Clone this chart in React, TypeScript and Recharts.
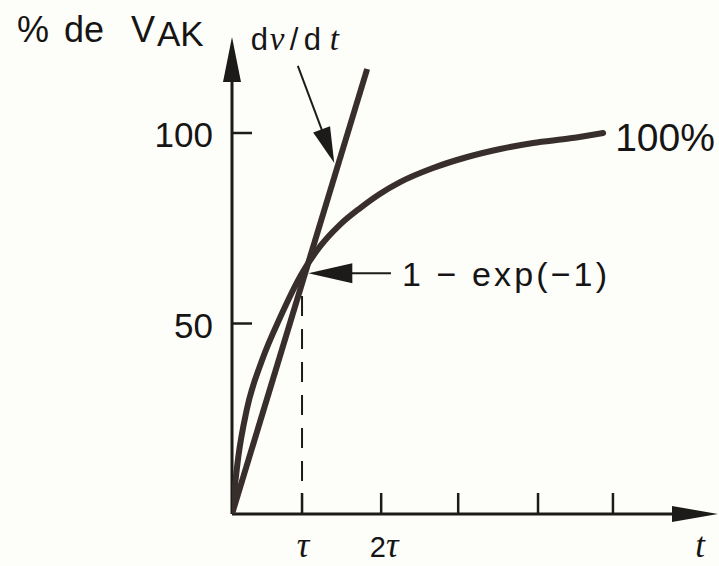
import React from 'react';
import { ComposedChart, Line, XAxis, YAxis, ReferenceLine } from 'recharts';

const INK = '#382e2c';
const AXIS = '#1d1b1a';
const TEXT = '#161414';
const PAPER = '#fdfdf9';
const SANS = '"Liberation Sans", Arial, Helvetica, sans-serif';
const SERIF = '"Liberation Serif", "Times New Roman", serif';

// charging curve: time in units of tau, value in % of V_AK
const curveT = [0, 0.09, 0.21, 0.43, 0.69, 1.0, 1.26, 1.54, 1.83, 2.11, 2.4, 2.87, 3.36, 3.83, 4.3, 4.83, 5.3];
const curvePct = [0, 15.0, 27.3, 40.4, 51.7, 63.2, 70.3, 75.9, 80.3, 84.0, 87.1, 90.8, 93.7, 95.8, 97.4, 98.6, 100];

// straight dv/dt line drawn from the origin
const slopeT = [0, 1.93];
const slopePct = [0, 116.8];

// axis ticks
const xTicks = [1, 2.13, 3.23, 4.37, 5.44];
const xTickLabels = ['τ', '2τ', '', '', ''];
const yTicks = [50, 100];

// axis extents (arrow tips)
const X_MAX = 6.94;
const Y_MAX = 125.2;

// value at t = tau
const TAU_VALUE = 63.2;

// annotation pointers
const dvdtPointer = [{ x: 0.94, y: 117.6 }, { x: 1.46, y: 92.1 }];
const expPointer = [{ x: 2.27, y: TAU_VALUE }, { x: 1.09, y: TAU_VALUE }];
const tauGuide = [{ x: 1, y: 0 }, { x: 1, y: TAU_VALUE }];

const curveData = curveT.map((x, i) => ({ x, y: curvePct[i] }));
const slopeData = slopeT.map((x, i) => ({ x, y: slopePct[i] }));

// line with a filled, narrow arrowhead at its second point
const arrow = (len: number, half: number, width: number, color: string, extra?: (p: any) => React.ReactNode) =>
  (props: any) => {
    const { x1, y1, x2, y2 } = props;
    const dx = x2 - x1;
    const dy = y2 - y1;
    const d = Math.hypot(dx, dy) || 1;
    const ux = dx / d;
    const uy = dy / d;
    const bx = x2 - ux * len;
    const by = y2 - uy * len;
    const nx = -uy * half;
    const ny = ux * half;
    return (
      <g>
        <line x1={x1} y1={y1} x2={bx + ux * 3} y2={by + uy * 3} stroke={color} strokeWidth={width} />
        <polygon points={`${x2},${y2} ${bx + nx},${by + ny} ${bx - nx},${by - ny}`} fill={color} />
        {extra ? extra(props) : null}
      </g>
    );
  };

const dvdtText = (p: any) => (
  <text y={p.y1 - 16} fontFamily={SANS} fontSize={31} fill={TEXT}>
    <tspan x={p.x1 - 47}>d</tspan>
    <tspan x={p.x1 - 28} fontFamily={SERIF} fontStyle="italic" fontSize={33}>v</tspan>
    <tspan x={p.x1 - 8}>/</tspan>
    <tspan x={p.x1 + 6}>d</tspan>
    <tspan x={p.x1 + 32} fontFamily={SERIF} fontStyle="italic" fontSize={33}>t</tspan>
  </text>
);

const expText = (p: any) => (
  <text x={p.x1 + 11} y={p.y1 + 13} fontFamily={SANS} fontSize={34} fill={TEXT}
    textLength={205} lengthAdjust="spacing">
    1 − exp(−1)
  </text>
);

const XTick = (props: any) => {
  const { x, y, payload } = props;
  const label = xTickLabels[xTicks.indexOf(payload.value)];
  return (
    <g>
      <line x1={x} y1={y} x2={x} y2={y - 21} stroke={AXIS} strokeWidth={2.5} />
      {label === 'τ' && (
        <text x={x + 1} y={y + 43} textAnchor="middle" fontFamily={SERIF} fontStyle="italic" fontSize={35} fill={TEXT}>τ</text>
      )}
      {label === '2τ' && (
        <text x={x + 3} y={y + 43} textAnchor="middle" fill={TEXT}>
          <tspan fontFamily={SANS} fontSize={29}>2</tspan>
          <tspan fontFamily={SERIF} fontStyle="italic" fontSize={35}>τ</tspan>
        </text>
      )}
    </g>
  );
};

const YTick = (props: any) => {
  const { x, y, payload } = props;
  return (
    <g>
      <line x1={x} y1={y} x2={x + 20} y2={y} stroke={AXIS} strokeWidth={2.5} />
      <text x={x - 19} y={y + 14} textAnchor="end" fontFamily={SANS} fontSize={35} fill={TEXT}>
        {payload.value}
      </text>
    </g>
  );
};

const YTitle = () => (
  <text y={42} fontFamily={SANS} fontSize={36} fill={TEXT}>
    <tspan x={17}>%</tspan>
    <tspan x={64}>de</tspan>
    <tspan x={131}>V</tspan>
    <tspan x={157} dy={4} fontSize={35}>AK</tspan>
  </text>
);

const XTitle = (props: any) => {
  const vb = props.viewBox || { x: 232, y: 514, width: 486 };
  return (
    <text x={vb.x + vb.width - 18} y={vb.y + 43} textAnchor="middle" fontFamily={SERIF}
      fontStyle="italic" fontSize={35} fill={TEXT}>t</text>
  );
};

const EndLabel = (props: any) => {
  const { x, y, value } = props;
  if (value !== 100) return null;
  return (
    <text x={x + 12} y={y + 18} fontFamily={SANS} fontSize={39} fill={TEXT}>100%</text>
  );
};

export default function App() {
  return (
    <div style={{ position: 'absolute', left: 0, top: 0, width: 719, height: 566, background: PAPER }}>
      <ComposedChart width={719} height={566} margin={{ top: 37, right: 1, bottom: 0, left: 0 }}>
        <XAxis
          type="number"
          dataKey="x"
          domain={[0, X_MAX]}
          allowDataOverflow
          ticks={xTicks}
          interval={0}
          height={52}
          axisLine={false}
          tickLine={false}
          tickSize={0}
          tickMargin={0}
          tick={<XTick />}
          label={{ content: <XTitle /> }}
        />
        <YAxis
          type="number"
          dataKey="y"
          domain={[0, Y_MAX]}
          allowDataOverflow
          ticks={yTicks}
          interval={0}
          width={232}
          axisLine={false}
          tickLine={false}
          tickSize={0}
          tickMargin={0}
          tick={<YTick />}
          label={{ content: <YTitle /> }}
        />

        <ReferenceLine
          segment={tauGuide}
          ifOverflow="visible"
          stroke={AXIS}
          strokeWidth={2}
          strokeDasharray="20 13"
        />

        <ReferenceLine segment={[{ x: 0, y: 0 }, { x: 0, y: Y_MAX }]} ifOverflow="visible" shape={arrow(45, 9, 3, AXIS)} />
        <ReferenceLine segment={[{ x: 0, y: 0 }, { x: X_MAX, y: 0 }]} ifOverflow="visible" shape={arrow(46, 8, 3, AXIS)} />

        <Line
          data={slopeData}
          dataKey="y"
          type="linear"
          stroke={INK}
          strokeWidth={6}
          dot={false}
          activeDot={false}
          isAnimationActive={false}
        />
        <Line
          data={curveData}
          dataKey="y"
          type="monotone"
          stroke={INK}
          strokeWidth={6}
          strokeLinecap="round"
          dot={false}
          activeDot={false}
          isAnimationActive={false}
          label={<EndLabel />}
        />

        <ReferenceLine segment={dvdtPointer} ifOverflow="visible" shape={arrow(36, 9, 2, AXIS, dvdtText)} />
        <ReferenceLine segment={expPointer} ifOverflow="visible" shape={arrow(44, 10, 2, AXIS, expText)} />
      </ComposedChart>
    </div>
  );
}
